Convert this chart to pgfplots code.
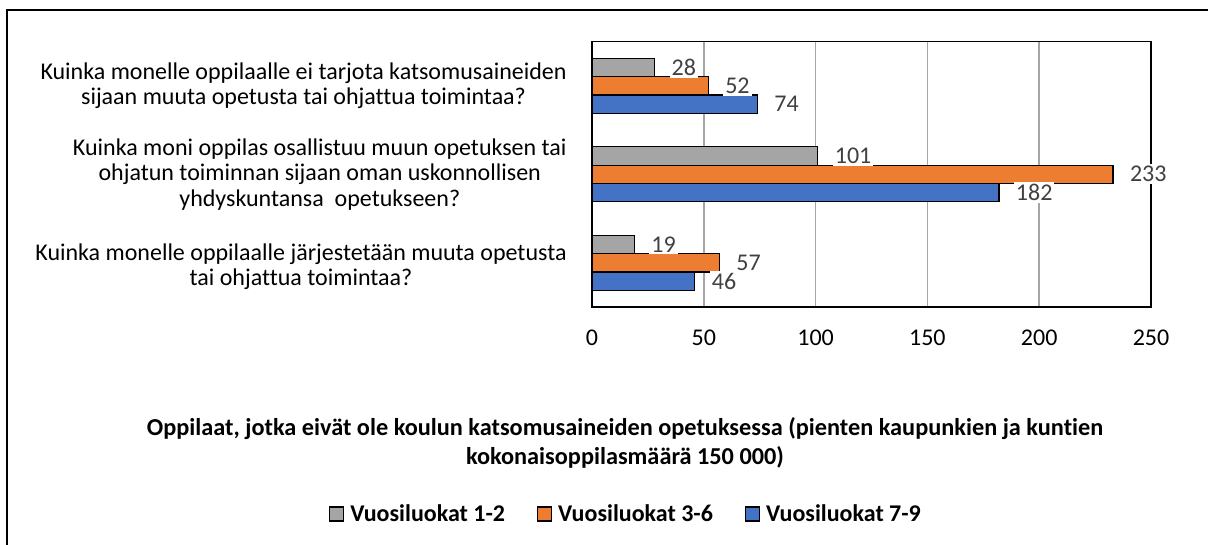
\documentclass[border=0pt]{standalone}
\usepackage{pgfplots}
\pgfplotsset{compat=1.18}
\usepackage{fontspec}
\setmainfont{Carlito}[Ligatures=NoCommon]
\definecolor{cgray}{HTML}{A5A5A5}
\definecolor{corange}{HTML}{ED7D31}
\definecolor{cblue}{HTML}{4472C4}
\definecolor{lbl}{HTML}{404040}
\definecolor{gridc}{HTML}{A6A6A6}
\begin{document}
\begin{tikzpicture}[x=1pt,y=1pt]
\begin{axis}[
  at={(296pt,-153.5pt)}, anchor=south west,
  scale only axis, width=279.5pt, height=132.75pt,
  xmin=0, xmax=250, ymin=-0.5, ymax=2.5,
  xtick={0,50,100,150,200,250},
  ytick={1,2},
  yticklabels={{Kuinka moni oppilas osallistuu muun opetuksen tai\\ohjatun toiminnan sijaan oman uskonnollisen\\yhdyskuntansa\ \ opetukseen?},
               {Kuinka monelle oppilaalle ei tarjota katsomusaineiden\\sijaan muuta opetusta tai ohjattua toimintaa?}},
  extra y ticks={0},
  extra y tick labels={{Kuinka monelle oppilaalle järjestetään muuta opetusta\\tai ohjattua toimintaa?}},
  extra y tick style={yticklabel style={yshift=-2pt}},
  major tick length=0pt,
  /pgf/number format/assume math mode=true,
  xticklabel style={font=\fontsize{12}{14}\selectfont, text=black, inner sep=0pt, yshift=-11.5pt},
  yticklabel style={align=center, font=\fontsize{12}{12.8}\selectfont, text=black, inner sep=0pt, xshift=-12.5pt},
  xmajorgrids, major grid style={gridc, line width=0.75pt},
  axis line style={black, line width=0.9pt},
  xbar, bar width=9.15pt,
  point meta=x,
  nodes near coords,
  nodes near coords style={font=\fontsize{12}{14}\selectfont, text=lbl, fill=white, inner xsep=1pt, inner ysep=1pt},
  every node near coord/.append style={anchor=west, xshift=7.2pt},
  legend columns=3,
  legend style={draw=none, fill=none, font=\bfseries\fontsize{12}{14}\selectfont,
    at={(0.059,-0.78)}, anchor=center,
    nodes={inner sep=0pt},
    /tikz/every odd column/.append style={column sep=3pt},
    /tikz/every even column/.append style={column sep=16pt}},
  legend image code/.code={\draw[#1,/tikz/.cd,line width=0.6pt,yshift=-3.5pt] (0pt,0pt) rectangle (7pt,7pt);},
]
\addplot[fill=cgray, draw=black, line width=0.6pt, bar shift=9.15pt] coordinates {(19,0) (101,1) (28,2)};
\addlegendentry{Vuosiluokat 1-2}
\addplot[fill=corange, draw=black, line width=0.6pt, bar shift=0pt] coordinates {(57,0) (233,1) (52,2)};
\addlegendentry{Vuosiluokat 3-6}
\addplot[fill=cblue, draw=black, line width=0.6pt, bar shift=-9.15pt] coordinates {(46,0) (182,1) (74,2)};
\addlegendentry{Vuosiluokat 7-9}
\end{axis}
\node[font=\bfseries\fontsize{12.15}{14.5}\selectfont, align=center] at (312.5,-221.5)
  {Oppilaat, jotka eivät ole koulun katsomusaineiden opetuksessa (pienten kaupunkien ja kuntien\\kokonaisoppilasmäärä 150 000)};
\draw[line width=1.2pt] (3.5,-300) -- (3.5,-5) -- (640,-5);
\pgfresetboundingbox
\path (0,0) rectangle (604,-272.5);
\end{tikzpicture}
\end{document}
